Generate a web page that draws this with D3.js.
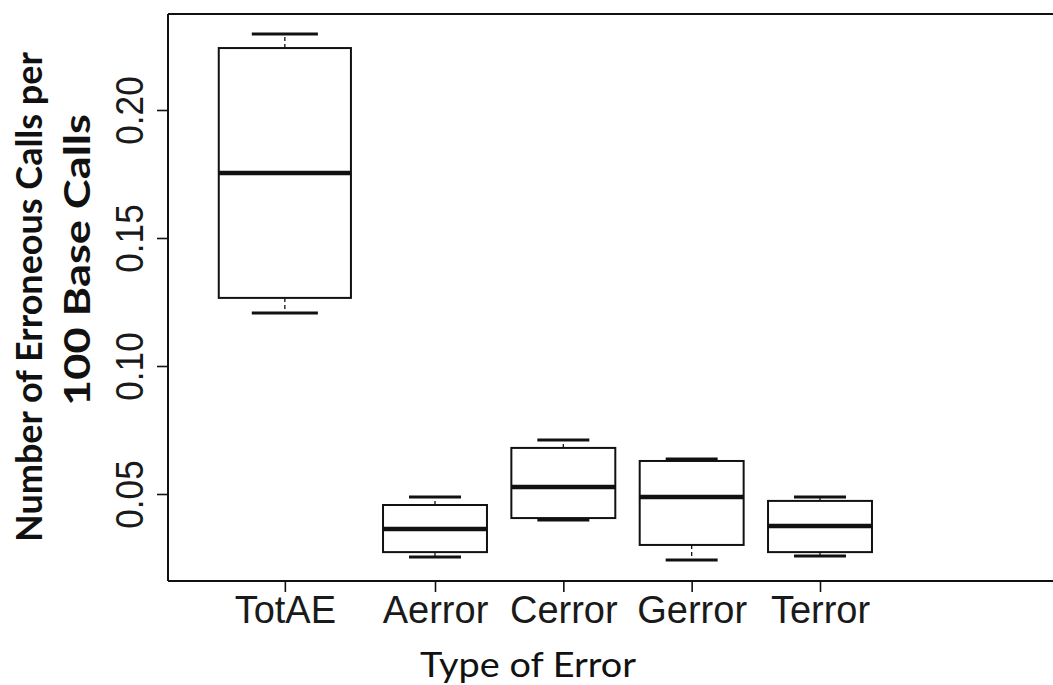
<!DOCTYPE html>
<html>
<head>
<meta charset="utf-8">
<script src="https://cdn.jsdelivr.net/npm/d3@7"></script>
<style>
  html, body { margin: 0; padding: 0; background: #fff; }
  svg { display: block; }
</style>
</head>
<body>
<svg id="chart" width="1053" height="685"></svg>
<script>
// Error categories and five-number summaries (per 100 base calls)
const categories   = ["TotAE", "Aerror", "Cerror", "Gerror", "Terror"];
const whiskerLow   = [0.1207, 0.0254, 0.0398, 0.0242, 0.0258];
const quartileLow  = [0.1266, 0.0273, 0.0406, 0.0301, 0.0273];
const medians      = [0.1754, 0.0363, 0.0527, 0.0488, 0.0375];
const quartileHigh = [0.2242, 0.0457, 0.0680, 0.0629, 0.0473];
const whiskerHigh  = [0.2297, 0.0488, 0.0711, 0.0637, 0.0488];
const yTicks       = [0.05, 0.10, 0.15, 0.20];

// Box placement along the x axis (slot units) and relative box widths
const slotAt    = [0.83, 2, 3, 4, 5];
const slotWidth = [1.03, 0.81, 0.81, 0.81, 0.81];

const svg = d3.select("#chart");
const frame = { left: 168, top: 14, bottom: 581, right: 1053 };
const ink = "#111";

const x = d3.scaleLinear().domain([2, 5]).range([435, 820]);
const y = d3.scaleLinear().domain([0.05, 0.20]).range([494, 110]);

const boxes = categories.map((c, i) => ({
  name: c, at: slotAt[i], w: slotWidth[i],
  lo: whiskerLow[i], q1: quartileLow[i], med: medians[i],
  q3: quartileHigh[i], hi: whiskerHigh[i]
}));

// Plot frame: left, top and bottom rules
const fr = svg.append("g").attr("stroke", ink).attr("stroke-width", 2).attr("fill", "none");
fr.append("line").attr("x1", frame.left).attr("x2", frame.left).attr("y1", frame.top).attr("y2", frame.bottom);
fr.append("line").attr("x1", frame.left).attr("x2", frame.right).attr("y1", frame.top).attr("y2", frame.top);
fr.append("line").attr("x1", frame.left).attr("x2", frame.right).attr("y1", frame.bottom).attr("y2", frame.bottom);

// Y axis with rotated tick labels
const yAxis = svg.append("g")
  .attr("transform", `translate(${frame.left},0)`)
  .call(d3.axisLeft(y).tickValues(yTicks).tickFormat(d3.format(".2f")).tickSize(11).tickSizeOuter(0));
yAxis.select(".domain").remove();
yAxis.selectAll(".tick line").attr("stroke", ink).attr("stroke-width", 1.6);
yAxis.selectAll(".tick text")
  .attr("x", 0).attr("y", -25).attr("dy", 0)
  .attr("transform", "rotate(-90) scale(0.9,1)")
  .attr("text-anchor", "middle")
  .attr("font-family", "'Liberation Sans', Arial, sans-serif")
  .attr("font-size", 39)
  .attr("fill", "#1a1a1a");

// X axis
const xAxis = svg.append("g")
  .attr("transform", `translate(0,${frame.bottom})`)
  .call(d3.axisBottom(x).tickValues(slotAt).tickFormat((d, i) => categories[i]).tickSize(11).tickSizeOuter(0));
xAxis.select(".domain").remove();
xAxis.selectAll(".tick line").attr("stroke", ink).attr("stroke-width", 1.6);
xAxis.selectAll(".tick text")
  .attr("y", 42).attr("dy", 0)
  .attr("font-family", "'Liberation Sans', Arial, sans-serif")
  .attr("font-size", 38)
  .attr("fill", "#1a1a1a");

// Box plots
const unit = x(3) - x(2);
const g = svg.append("g").selectAll("g.box").data(boxes).join("g").attr("class", "box");

g.append("line") // upper whisker stem
  .attr("x1", d => x(d.at)).attr("x2", d => x(d.at))
  .attr("y1", d => y(d.q3)).attr("y2", d => y(d.hi))
  .attr("stroke", ink).attr("stroke-width", 1.3).attr("stroke-dasharray", "4,3");
g.append("line") // lower whisker stem
  .attr("x1", d => x(d.at)).attr("x2", d => x(d.at))
  .attr("y1", d => y(d.q1)).attr("y2", d => y(d.lo))
  .attr("stroke", ink).attr("stroke-width", 1.3).attr("stroke-dasharray", "4,3");

g.append("line") // upper cap
  .attr("x1", d => x(d.at) - d.w * unit / 4).attr("x2", d => x(d.at) + d.w * unit / 4)
  .attr("y1", d => y(d.hi)).attr("y2", d => y(d.hi))
  .attr("stroke", ink).attr("stroke-width", 3);
g.append("line") // lower cap
  .attr("x1", d => x(d.at) - d.w * unit / 4).attr("x2", d => x(d.at) + d.w * unit / 4)
  .attr("y1", d => y(d.lo)).attr("y2", d => y(d.lo))
  .attr("stroke", ink).attr("stroke-width", 3);

g.append("rect")
  .attr("x", d => x(d.at) - d.w * unit / 2)
  .attr("width", d => d.w * unit)
  .attr("y", d => y(d.q3))
  .attr("height", d => y(d.q1) - y(d.q3))
  .attr("fill", "#fff").attr("stroke", ink).attr("stroke-width", 2);

g.append("line") // median
  .attr("x1", d => x(d.at) - d.w * unit / 2).attr("x2", d => x(d.at) + d.w * unit / 2)
  .attr("y1", d => y(d.med)).attr("y2", d => y(d.med))
  .attr("stroke", ink).attr("stroke-width", 4.5);

// Axis titles, fitted to their lengths
function fitted(sel, target) {
  const len = sel.node().getComputedTextLength();
  return target / len;
}

const t1 = svg.append("text").text("Number of Erroneous Calls per")
  .attr("font-family", "Lato, 'Open Sans', sans-serif").attr("font-weight", 700)
  .attr("font-size", 37).attr("text-anchor", "middle").attr("fill", "#111");
t1.attr("transform", `translate(42,297) rotate(-90) scale(${fitted(t1, 490)},1)`);

const t2 = svg.append("text").text("100 Base Calls")
  .attr("font-family", "Lato, 'Open Sans', sans-serif").attr("font-weight", 700)
  .attr("font-size", 37).attr("text-anchor", "middle").attr("fill", "#111");
t2.attr("transform", `translate(90,260) rotate(-90) scale(${fitted(t2, 292)},1)`);

const t3 = svg.append("text").text("Type of Error")
  .attr("font-family", "Lato, 'Open Sans', sans-serif").attr("font-weight", 400)
  .attr("font-size", 35).attr("text-anchor", "middle").attr("fill", "#111");
t3.attr("transform", `translate(528,677) scale(${fitted(t3, 216)},1)`);
</script>
</body>
</html>
